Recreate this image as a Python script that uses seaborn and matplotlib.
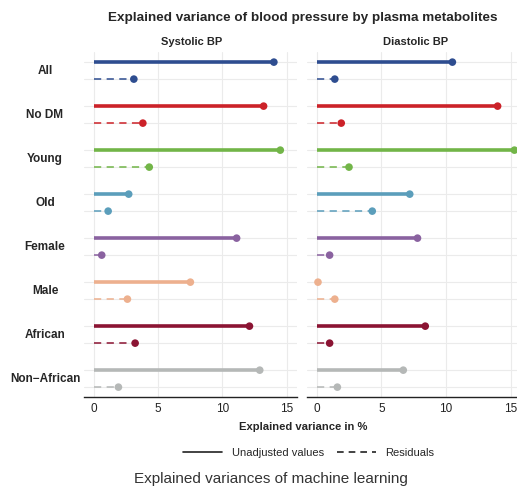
import numpy as np
import pandas as pd
import matplotlib
matplotlib.use("Agg")
import matplotlib.pyplot as plt
import matplotlib.transforms as mtransforms
from matplotlib.lines import Line2D
import seaborn as sns

# data (explained variance in %)
groups = ["All", "No DM", "Young", "Old", "Female", "Male", "African", "Non\u2212African"]
colors = ["#2E4D90", "#CC2229", "#72B548", "#5B9EBB", "#8A62A0", "#EDB08E", "#8B1433", "#B5B8B7"]
panels = ["Systolic BP", "Diastolic BP"]
sys_unadj = [14.0, 13.2, 14.5, 2.7, 11.1, 7.5, 12.1, 12.9]
sys_resid = [3.1, 3.8, 4.3, 1.1, 0.6, 2.6, 3.2, 1.9]
dia_unadj = [10.5, 14.0, 15.3, 7.2, 7.8, 0.1, 8.4, 6.7]
dia_resid = [1.4, 1.9, 2.5, 4.3, 1.0, 1.4, 1.0, 1.6]

rows = []
for p, un, re in [(panels[0], sys_unadj, sys_resid), (panels[1], dia_unadj, dia_resid)]:
    for i, g in enumerate(groups):
        rows.append(dict(panel=p, group=g, kind="Unadjusted values", value=un[i], y=i))
        rows.append(dict(panel=p, group=g, kind="Residuals", value=re[i], y=i + 0.386))
df = pd.DataFrame(rows)

sns.set_theme(style="whitegrid")
plt.rcParams["font.family"] = ["Liberation Sans", "DejaVu Sans"]

W, H = 517, 488
fig = plt.figure(figsize=(W / 100, H / 100), dpi=100)
pal = dict(zip(groups, colors))

boxes = [(84, 297, -0.78, 15.8, 192), (307, 517, -0.75, 15.5, 416)]
top, bottom = 52, 397
axes = []
for (x0, x1, lo, hi, tx), p in zip(boxes, panels):
    ax = fig.add_axes([x0 / W, 1 - bottom / H, (x1 - x0) / W, (bottom - top) / H])
    d = df[df.panel == p]
    for _, r in d.iterrows():
        solid = r.kind == "Unadjusted values"
        ax.plot([0, r.value], [r.y, r.y], color=pal[r.group],
                lw=2.6 if solid else 1.3, ls="-" if solid else (0, (4, 3)),
                alpha=1 if solid else 0.85, solid_capstyle="butt", zorder=2)
    sns.scatterplot(data=d, x="value", y="y", hue="group", palette=pal, s=30,
                    edgecolor="none", legend=False, ax=ax, zorder=3)
    ax.set_xlim(lo, hi)
    ax.set_ylim(7.61, -0.23)
    ax.set_xticks([0, 5, 10, 15])
    ax.set_yticks(df.y.unique())
    ax.set_yticklabels([])
    ax.tick_params(axis="y", length=0)
    ax.tick_params(axis="x", labelsize=8.5, colors="#222222", length=0, pad=4)
    ax.grid(color="#EBEBEB", lw=0.8)
    for s in ["top", "right", "left"]:
        ax.spines[s].set_visible(False)
    ax.spines["bottom"].set_color("#222222")
    ax.spines["bottom"].set_linewidth(1.0)
    ax.set_xlabel("")
    ax.set_ylabel("")
    fig.text(tx / W, 1 - 42 / H, p, ha="center", va="center",
             fontsize=8, fontweight="bold")
    axes.append(ax)

# row labels centred left of the first panel
tr = mtransforms.blended_transform_factory(fig.transFigure, axes[0].transData)
for i, g in enumerate(groups):
    fig.text(45 / W, i + 0.193, g, transform=tr, ha="center", va="center",
             fontsize=8.5, fontweight="bold")

fig.text(303 / W, 1 - 18 / H, "Explained variance of blood pressure by plasma metabolites",
         ha="center", va="center", fontsize=9.7, fontweight="bold")
fig.text(303 / W, 1 - 427 / H, "Explained variance in %", ha="center", va="center",
         fontsize=8.1, fontweight="bold")

handles = [Line2D([], [], color="#222222", lw=1.2, ls="-"),
           Line2D([], [], color="#222222", lw=1.2, ls=(0, (4, 3)))]
fig.legend(handles, ["Unadjusted values", "Residuals"], ncol=2, frameon=False,
           loc="center", bbox_to_anchor=(309 / W, 1 - 453 / H), fontsize=8,
           handlelength=3.5, columnspacing=1.1, handletextpad=0.9)

fig.text(271 / W, 1 - 479 / H, "Explained variances of machine learning",
         ha="center", va="center", fontsize=11, color="#333333")

fig.savefig("out.png", dpi=100)
